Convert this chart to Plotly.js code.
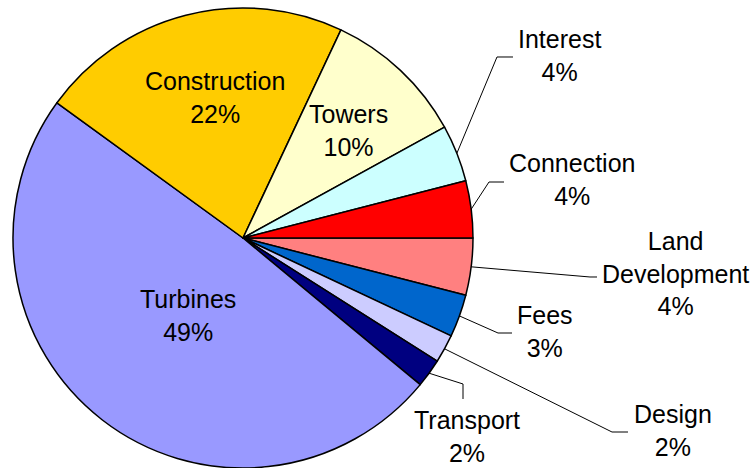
<!DOCTYPE html>
<html>
<head>
<meta charset="utf-8">
<script src="https://cdn.plot.ly/plotly-3.0.1.min.js"></script>
<style>html,body{margin:0;padding:0;background:#fff;}#chart{width:754px;height:468px;}</style>
</head>
<body>
<div id="chart"></div>
<script>
// Data (clockwise from 3 o'clock)
const categories = ["Land<br>Development", "Fees", "Design", "Transport", "Turbines", "Construction", "Towers", "Interest", "Connection"];
const shares = [4, 3, 2, 2, 49, 22, 10, 4, 4];
const sliceColors = ["#FF8080", "#0066CC", "#CCCCFF", "#000080", "#9999FF", "#FFCC00", "#FFFFCC", "#CCFFFF", "#FF0000"];

// Layout (pixels)
const W = 754, H = 468;
const CX = 243, CY = 238, R = 230;
// label block centres, and leader elbows/ends (null = inside label)
const labelPos = [[675, 273], [545, 331], [673, 430], [467, 436], [188, 315], [215, 97], [348, 130], [559, 55], [572, 180]];
const leaders = [
  [[590, 277], [597, 277]],
  [[498, 333], [512, 333]],
  [[612, 432], [628, 432]],
  [[463, 384], [463, 399]],
  null, null, null,
  [[497, 57], [513, 57]],
  [[489, 182], [504, 182]]
];

const px = x => x / W, py = y => 1 - y / H;
const total = shares.reduce((a, b) => a + b, 0);

const trace = {
  type: 'pie',
  labels: categories,
  values: shares,
  sort: false,
  direction: 'clockwise',
  rotation: 90,
  marker: { colors: sliceColors, line: { color: '#000000', width: 1.5 } },
  textinfo: 'none',
  hoverinfo: 'none',
  showlegend: false,
  domain: { x: [px(CX - R), px(CX + R)], y: [py(CY + R), py(CY - R)] }
};

const annotations = [];
const shapes = [];
let cum = 0;
shares.forEach((v, i) => {
  const mid = (cum + v / 2) / total;
  cum += v;
  const ang = mid * 2 * Math.PI; // clockwise from 3 o'clock
  const sx = CX + R * Math.cos(ang), sy = CY + R * Math.sin(ang);
  annotations.push({
    xref: 'paper', yref: 'paper',
    x: px(labelPos[i][0]), y: py(labelPos[i][1]),
    xanchor: 'center', yanchor: 'middle',
    showarrow: false,
    text: categories[i] + '<br>' + Math.round(v / total * 100) + '%',
    font: { family: 'Liberation Sans, Arial, sans-serif', size: 25, color: '#000' },
    align: 'center'
  });
  if (leaders[i]) {
    const pts = [[sx, sy]].concat(leaders[i]);
    const path = 'M ' + pts.map(p => px(p[0]).toFixed(5) + ',' + py(p[1]).toFixed(5)).join(' L ');
    shapes.push({ type: 'path', xref: 'paper', yref: 'paper', path: path, line: { color: '#000', width: 1 } });
  }
});

const layout = {
  width: W, height: H,
  margin: { l: 0, r: 0, t: 0, b: 0 },
  paper_bgcolor: '#ffffff',
  plot_bgcolor: '#ffffff',
  showlegend: false,
  annotations: annotations,
  shapes: shapes,
  hovermode: false
};

Plotly.newPlot('chart', [trace], layout, { displayModeBar: false, staticPlot: true });
</script>
</body>
</html>
